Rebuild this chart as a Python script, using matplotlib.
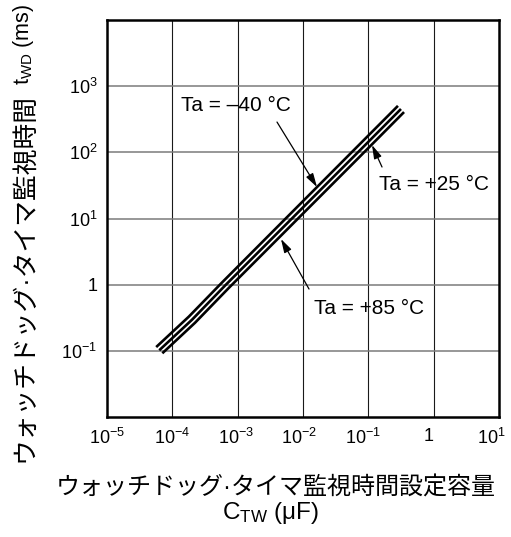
import matplotlib
matplotlib.use("Agg")
import matplotlib.pyplot as plt
import matplotlib.transforms as mtransforms

plt.rcParams['font.family'] = ['Liberation Sans', 'Noto Sans CJK JP', 'DejaVu Sans']
plt.rcParams['mathtext.fontset'] = 'custom'
plt.rcParams['mathtext.rm'] = 'Liberation Sans'
plt.rcParams['mathtext.it'] = 'Liberation Sans:italic'
plt.rcParams['mathtext.bf'] = 'Liberation Sans:bold'
plt.rcParams['mathtext.sf'] = 'Liberation Sans'

# Watchdog timer capacitance (uF) vs. watchdog time (ms)
cap_m40 = [5.66e-5, 1.79e-4, 5.93e-4, 5.93e-3, 5.66e-2, 0.284]
twd_m40 = [0.114, 0.329, 1.11, 10.9, 102, 504]

cap_p25 = [6.31e-5, 2.00e-4, 6.61e-4, 6.61e-3, 6.31e-2, 0.316]
twd_p25 = [0.102, 0.295, 1.00, 9.77, 91.2, 452]

cap_p85 = [7.03e-5, 2.22e-4, 7.36e-4, 7.36e-3, 7.03e-2, 0.352]
twd_p85 = [0.0918, 0.265, 0.898, 8.77, 81.8, 406]

x_ticks = [1e-5, 1e-4, 1e-3, 1e-2, 1e-1, 1, 10]
x_ticklabels = [r'$10^{-5}$', r'$10^{-4}$', r'$10^{-3}$', r'$10^{-2}$',
                r'$10^{-1}$', '1', r'$10^{1}$']
y_ticks = [1e-1, 1, 10, 100, 1000]
y_ticklabels = [r'$10^{-1}$', '1', r'$10^{1}$', r'$10^{2}$', r'$10^{3}$']
y_grid = [1e-1, 1, 10, 100, 1000]

fig = plt.figure(figsize=(5.11, 5.37), dpi=100)
ax = fig.add_axes([107 / 511, 1 - 417 / 537, 392 / 511, 397 / 537])
ax.set_xscale('log')
ax.set_yscale('log')
ax.set_xlim(1e-5, 10)
ax.set_ylim(1e-2, 1e4)

for xv in x_ticks[1:-1]:
    ax.axvline(xv, color='#1a1a1a', lw=0.8, zorder=1)
for yv in y_grid:
    ax.axhline(yv, color='#7a7a7a', lw=1.1, zorder=1)

for c, t in [(cap_m40, twd_m40), (cap_p25, twd_p25), (cap_p85, twd_p85)]:
    ax.plot(c, t, color='black', lw=1.9, solid_capstyle='butt',
            solid_joinstyle='round', zorder=3)

ax.xaxis.set_major_locator(matplotlib.ticker.FixedLocator(x_ticks))
ax.xaxis.set_major_formatter(matplotlib.ticker.FixedFormatter(x_ticklabels))
ax.yaxis.set_major_locator(matplotlib.ticker.FixedLocator(y_ticks))
ax.yaxis.set_major_formatter(matplotlib.ticker.FixedFormatter(y_ticklabels))
ax.xaxis.set_minor_locator(matplotlib.ticker.NullLocator())
ax.yaxis.set_minor_locator(matplotlib.ticker.NullLocator())
ax.tick_params(axis='x', length=0, pad=8, labelsize=13)
ax.tick_params(axis='y', length=0, pad=7, labelsize=13)

# nudge the x tick labels slightly leftwards, as in the printed chart
fig.canvas.draw()
x_nudge_px = [0, 0, -2, -4, -5, -5, -8]
for lbl, dx in zip(ax.get_xticklabels(), x_nudge_px):
    lbl.set_transform(lbl.get_transform() +
                      mtransforms.ScaledTranslation(dx / 100, 0, fig.dpi_scale_trans))

for sp in ax.spines.values():
    sp.set_linewidth(1.8)
    sp.set_zorder(4)

arrow = dict(arrowstyle='-|>,head_length=0.55,head_width=0.16', color='black',
             lw=0.9, shrinkA=0, shrinkB=0, mutation_scale=15)

ax.annotate('', xy=(0.01637, 29.9), xytext=(4.0e-3, 287), arrowprops=arrow, zorder=5)
ax.text(9.44e-4, 519, 'Ta = \u201340 \u00b0C', fontsize=15, ha='center', va='center')

ax.annotate('', xy=(0.1138, 129), xytext=(0.162, 60), arrowprops=arrow, zorder=5)
ax.text(1.0, 32.1, 'Ta = +25 \u00b0C', fontsize=15, ha='center', va='center')

ax.annotate('', xy=(4.6e-3, 4.9), xytext=(0.01236, 0.859), arrowprops=arrow, zorder=5)
ax.text(0.102, 0.443, 'Ta = +85 \u00b0C', fontsize=15, ha='center', va='center')

# x axis title (two lines)
fig.text(276 / 511, 1 - 488 / 537, 'ウォッチドッグ\u00b7タイマ監視時間設定容量',
         fontsize=17.3, ha='center', va='center')
fig.text(270 / 511, 1 - 513 / 537, r'$\mathrm{C_{TW}}$' + ' (\u03bcF)',
         fontsize=17.5, ha='center', va='center')

# y axis title, drawn in two pieces
fig.text(24 / 511, 1 - 278 / 537, 'ウォッチドッグ\u00b7タイマ監視時間',
         fontsize=18.5, ha='center', va='center', rotation=90)
fig.text(24 / 511, 1 - 44 / 537, r'$\mathrm{t_{WD}}$' + ' (ms)',
         fontsize=15.5, ha='center', va='center', rotation=90)

fig.savefig('out.png', dpi=100)
